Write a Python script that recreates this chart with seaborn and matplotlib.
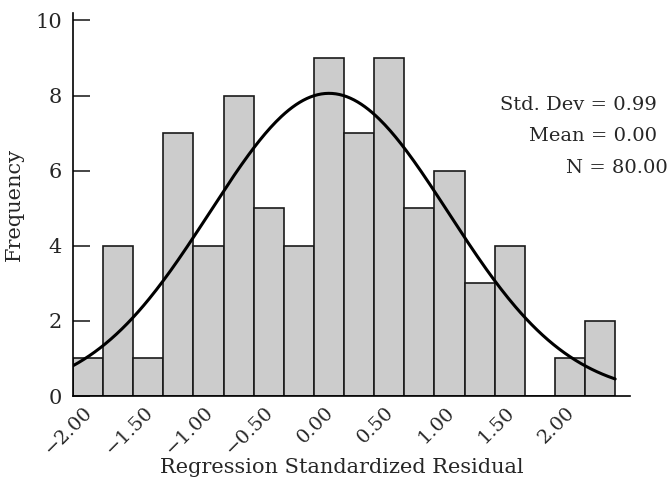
"""Histogram of regression standardized residuals with fitted normal curve."""

import matplotlib
matplotlib.use("Agg")
import matplotlib.pyplot as plt
import matplotlib.transforms as mtransforms
import numpy as np
import seaborn as sns


# Histogram data (bins of width 0.25, centred on -2.00 ... 2.25)
bin_centers = [-2.00, -1.75, -1.50, -1.25, -1.00, -0.75, -0.50, -0.25, 0.00,
               0.25, 0.50, 0.75, 1.00, 1.25, 1.50, 1.75, 2.00, 2.25]
counts = [1, 4, 1, 7, 4, 8, 5, 4, 9, 7, 9, 5, 6, 3, 4, 0, 1, 2]
bin_width = 0.25

# Summary statistics shown on the chart
std_dev = 0.99
mean = 0.00
n_obs = 80

tick_values = [-2.0, -1.5, -1.0, -0.5, 0.0, 0.5, 1.0, 1.5, 2.0]
tick_labels = ["\u22122.00", "\u22121.50", "\u22121.00", "\u22120.50", "0.00",
               "0.50", "1.00", "1.50", "2.00"]
y_ticks = [0, 2, 4, 6, 8, 10]

sns.set_style("ticks")
plt.rcParams["font.family"] = ["DejaVu Serif"]

fig = plt.figure(figsize=(6.69, 4.8), dpi=100)
ax = fig.add_axes([0.109, 0.175, 0.833, 0.798])

lo = bin_centers[0] - bin_width / 2
hi = bin_centers[-1] + bin_width / 2
sns.histplot(x=bin_centers, weights=counts, binwidth=bin_width,
             binrange=(lo, hi), color="#cccccc", edgecolor="#1a1a1a",
             linewidth=1.2, alpha=1, ax=ax)

# Fitted normal curve scaled to counts
xs = np.linspace(lo, hi, 300)
ys = n_obs * bin_width * np.exp(-0.5 * ((xs - mean) / std_dev) ** 2) / (std_dev * np.sqrt(2 * np.pi))
sns.lineplot(x=xs, y=ys, color="black", linewidth=2.2, ax=ax)

ax.set_xlim(lo, 2.5)
ax.set_ylim(0, 10.2)
ax.set_yticks(y_ticks)
ax.set_xticks(tick_values)
ax.set_xticklabels(tick_labels, rotation=45, ha="right", fontsize=14)
ax.tick_params(axis="x", length=0, pad=5)
ax.tick_params(axis="y", direction="in", length=12, width=1.2, labelsize=15, pad=8)

offset = mtransforms.ScaledTranslation(6 / 72, 0, fig.dpi_scale_trans)
for lab in ax.get_xticklabels():
    lab.set_transform(lab.get_transform() + offset)

sns.despine(ax=ax)
for side in ["left", "bottom"]:
    ax.spines[side].set_linewidth(1.2)
    ax.spines[side].set_color("black")

ax.set_xlabel("Regression Standardized Residual", fontsize=15)
ax.xaxis.set_label_coords(0.483, -0.162)
ax.set_ylabel("Frequency", fontsize=15, labelpad=8)

ax.text(657 / 669, 1 - 105 / 480, f"Std. Dev = {std_dev:.2f}", transform=fig.transFigure,
        ha="right", va="center", fontsize=14)
ax.text(657 / 669, 1 - 136 / 480, f"Mean = {mean:.2f}", transform=fig.transFigure,
        ha="right", va="center", fontsize=14)
ax.text(668 / 669, 1 - 168 / 480, f"N = {n_obs:.2f}", transform=fig.transFigure,
        ha="right", va="center", fontsize=14)

fig.savefig("out.png", dpi=100)
